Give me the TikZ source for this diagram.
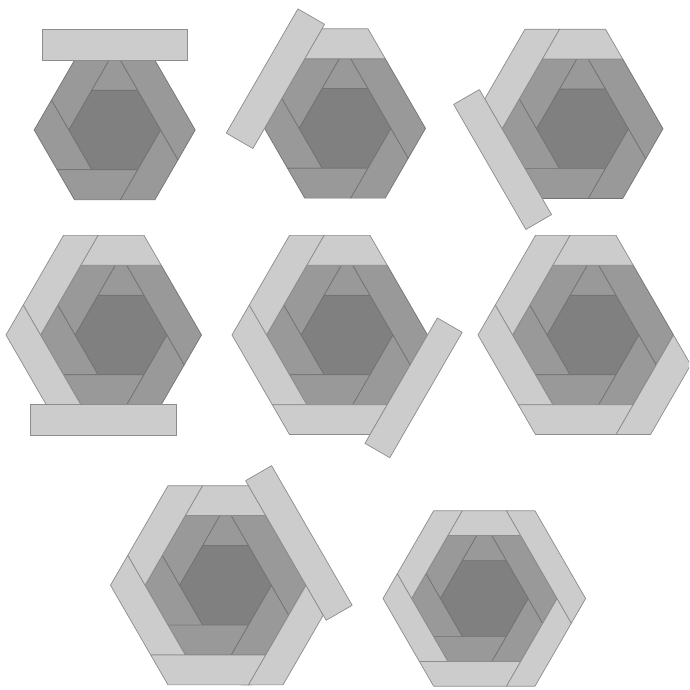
\documentclass[tikz,border=0pt]{standalone}
\usetikzlibrary{calc}
\definecolor{cenC}{RGB}{128,128,128}
\definecolor{midC}{RGB}{153,153,153}
\definecolor{liteC}{RGB}{204,204,204}
\definecolor{edgeC}{RGB}{105,105,105}
\definecolor{edgeM}{RGB}{115,115,115}
\definecolor{edgeL}{RGB}{140,140,140}
\tikzset{
  cenpiece/.style={fill=cenC, draw=edgeC, line width=0.7pt, line join=round},
  midpiece/.style={fill=midC, draw=edgeM, line width=0.7pt, line join=round},
  litepiece/.style={fill=liteC, draw=edgeL, line width=0.7pt, line join=round},
}
% ring geometry: #1 inner radius, #2 outer radius (flat-top hexagons)
\newcommand\setring[2]{%
  \coordinate (I0) at (0:#1);   \coordinate (I1) at (60:#1);  \coordinate (I2) at (120:#1);
  \coordinate (I3) at (180:#1); \coordinate (I4) at (240:#1); \coordinate (I5) at (300:#1);
  \coordinate (O0) at (0:#2);   \coordinate (O1) at (60:#2);  \coordinate (O2) at (120:#2);
  \coordinate (O3) at (180:#2); \coordinate (O4) at (240:#2); \coordinate (O5) at (300:#2);
  \coordinate (P) at (intersection of I3--I2 and O1--O2);
  \coordinate (Q) at (intersection of I0--I1 and O1--O2);
  \coordinate (S) at (intersection of I4--I3 and O2--O3);
  \coordinate (T) at (intersection of I5--I4 and O3--O4);
  \coordinate (U) at (intersection of I0--I5 and O4--O5);
  \coordinate (V) at (intersection of I1--I0 and O5--O0);
}
\newcommand\pTop[1]{\draw[#1] (I2)--(I1)--(Q)--(P)--cycle;}
\newcommand\pNW[1]{\draw[#1] (P)--(O2)--(S)--(I3)--cycle;}
\newcommand\pSW[1]{\draw[#1] (S)--(O3)--(T)--(I4)--cycle;}
\newcommand\pBot[1]{\draw[#1] (T)--(O4)--(U)--(I5)--cycle;}
\newcommand\pSE[1]{\draw[#1] (U)--(O5)--(V)--(I0)--cycle;}
\newcommand\pNE[1]{\draw[#1] (V)--(O0)--(O1)--(Q)--cycle;}
\newcommand\corehex{\draw[cenpiece] (I0)--(I1)--(I2)--(I3)--(I4)--(I5)--cycle;}
\newcommand\ringone[2]{%
  \setring{#1}{#2}\corehex
  \pTop{midpiece}\pNW{midpiece}\pSW{midpiece}\pBot{midpiece}\pSE{midpiece}\pNE{midpiece}}
% strip: side from #1 to #2 (counter-clockwise), extension beyond #1, beyond #2, height
\newcommand\stripat[5]{%
  \coordinate (A) at ($(#1)!-#3pt!(#2)$);
  \coordinate (B) at ($(#2)!-#4pt!(#1)$);
  \draw[litepiece] (A) -- (B) -- ($(B)!#5pt!90:(A)$) -- ($(A)!#5pt!-90:(B)$) -- cycle;}
\begin{document}
\begin{tikzpicture}[x=1pt,y=1pt]
\useasboundingbox (0,0) rectangle (689,690);
\clip (0,0) rectangle (689,690);
\fill[white] (0,0) rectangle (689,690);
% panel 1
\begin{scope}[shift={(114.7,560)}]
  \ringone{46}{80.5}
  \setring{80.5}{115}
  \stripat{I1}{I2}{32.4}{31.7}{30.5}
\end{scope}
% panel 2
\begin{scope}[shift={(345,561.6)}]
  \ringone{46}{80.5}
  \setring{80.5}{115}
  \pTop{litepiece}
  \stripat{I2}{I3}{39.7}{23.2}{30.8}
\end{scope}
% panel 3
\begin{scope}[shift={(582.5,561.2)}]
  \ringone{46}{80.5}
  \setring{80.5}{115}
  \pTop{litepiece}\pNW{litepiece}
  \stripat{I3}{I4}{45.3}{18.6}{29.7}
\end{scope}
% panel 4
\begin{scope}[shift={(121,355)}]
  \ringone{46}{80.5}
  \setring{80.5}{115}
  \pTop{litepiece}\pNW{litepiece}\pSW{litepiece}
  \stripat{I4}{I5}{50}{15.5}{30.7}
\end{scope}
% panel 5
\begin{scope}[shift={(347,355)}]
  \ringone{46}{80.5}
  \setring{80.5}{115}
  \pTop{litepiece}\pNW{litepiece}\pSW{litepiece}\pBot{litepiece}
  \stripat{I5}{I0}{44.6}{19.7}{28.7}
\end{scope}
% panel 6
\begin{scope}[shift={(593,355)}]
  \ringone{46}{80.5}
  \setring{80.5}{115}
  \pTop{litepiece}\pNW{litepiece}\pSW{litepiece}\pBot{litepiece}\pSE{litepiece}
\end{scope}
% panel 7
\begin{scope}[shift={(225.5,104.7)}]
  \ringone{46}{80.5}
  \setring{80.5}{115}
  \pTop{litepiece}\pNW{litepiece}\pSW{litepiece}\pBot{litepiece}\pSE{litepiece}
  \stripat{I0}{I1}{40.4}{40.3}{30}
\end{scope}
% panel 8
\begin{scope}[shift={(484.3,91.5)}]
  \ringone{44}{72.8}
  \setring{72.8}{101.3}
  \pTop{litepiece}\pNW{litepiece}\pSW{litepiece}\pBot{litepiece}\pSE{litepiece}\pNE{litepiece}
\end{scope}
\end{tikzpicture}
\end{document}
